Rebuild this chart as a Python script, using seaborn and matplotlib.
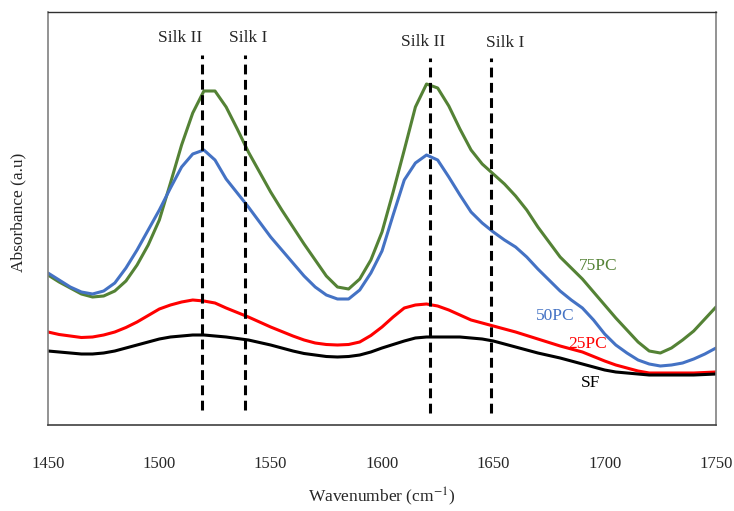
import numpy as np
import pandas as pd
import matplotlib
matplotlib.use("Agg")
import matplotlib.pyplot as plt
import seaborn as sns

sns.set_style("white")
plt.rcParams['font.family'] = ['Liberation Serif', 'DejaVu Serif']
plt.rcParams['mathtext.fontset'] = 'stix'

# wavenumber (cm-1), one reading every 5 cm-1
wavenumber = list(range(1450, 1755, 5))

# absorbance (a.u.)
pc75 = [1.50, 1.43, 1.37, 1.31, 1.28, 1.29, 1.34, 1.44, 1.60, 1.80,
        2.05, 2.42, 2.80, 3.12, 3.34, 3.34, 3.18, 2.96, 2.73, 2.53,
        2.33, 2.15, 1.98, 1.81, 1.65, 1.49, 1.38, 1.36, 1.46, 1.65,
        1.93, 2.33, 2.75, 3.18, 3.41, 3.37, 3.19, 2.96, 2.75, 2.61,
        2.51, 2.41, 2.29, 2.15, 1.98, 1.83, 1.68, 1.57, 1.46, 1.33,
        1.20, 1.07, 0.95, 0.83, 0.74, 0.72, 0.77, 0.85, 0.94, 1.06,
        1.18]
pc50 = [1.52, 1.45, 1.38, 1.33, 1.31, 1.34, 1.42, 1.57, 1.75, 1.95,
        2.15, 2.37, 2.58, 2.71, 2.75, 2.65, 2.46, 2.32, 2.18, 2.03,
        1.88, 1.75, 1.62, 1.49, 1.38, 1.30, 1.26, 1.26, 1.35, 1.52,
        1.74, 2.10, 2.45, 2.62, 2.70, 2.65, 2.48, 2.30, 2.13, 2.02,
        1.93, 1.85, 1.78, 1.68, 1.56, 1.45, 1.34, 1.25, 1.17, 1.05,
        0.91, 0.80, 0.72, 0.65, 0.61, 0.59, 0.60, 0.62, 0.66, 0.71,
        0.77]
pc25 = [0.93, 0.905, 0.89, 0.875, 0.88, 0.90, 0.93, 0.975, 1.03, 1.095,
        1.16, 1.20, 1.23, 1.25, 1.24, 1.22, 1.17, 1.125, 1.08, 1.03,
        0.98, 0.935, 0.89, 0.85, 0.82, 0.805, 0.80, 0.805, 0.83, 0.895,
        0.98, 1.08, 1.17, 1.20, 1.21, 1.19, 1.15, 1.10, 1.05, 1.02,
        0.99, 0.96, 0.93, 0.895, 0.86, 0.825, 0.79, 0.76, 0.73, 0.685,
        0.64, 0.60, 0.57, 0.54, 0.52, 0.52, 0.52, 0.52, 0.52, 0.525,
        0.53]
sf = [0.74, 0.73, 0.72, 0.71, 0.71, 0.72, 0.74, 0.77, 0.80, 0.83,
      0.86, 0.88, 0.89, 0.90, 0.90, 0.89, 0.88, 0.865, 0.85, 0.825,
      0.80, 0.77, 0.74, 0.715, 0.70, 0.685, 0.68, 0.685, 0.70, 0.73,
      0.77, 0.805, 0.84, 0.87, 0.88, 0.88, 0.88, 0.88, 0.87, 0.86,
      0.84, 0.81, 0.78, 0.75, 0.72, 0.695, 0.67, 0.64, 0.61, 0.58,
      0.55, 0.53, 0.52, 0.51, 0.50, 0.50, 0.50, 0.50, 0.50, 0.505,
      0.51]

series_names = ['75PC', '50PC', '25PC', 'SF']
series_colors = ['#548235', '#4472C4', '#FF0000', '#000000']

silk_pos = [1519, 1538.5, 1621.5, 1649]
silk_text = ['Silk II', 'Silk I', 'Silk II', 'Silk I']

df = pd.DataFrame({'Wavenumber': wavenumber, '75PC': pc75, '50PC': pc50,
                   '25PC': pc25, 'SF': sf})
df_long = df.melt(id_vars='Wavenumber', var_name='Sample', value_name='Absorbance')

fig = plt.figure(figsize=(7.34, 5.11), dpi=100)
ax = fig.add_axes([48/734, 1-425/511, (716-48)/734, (425-12)/511])

sns.lineplot(data=df_long, x='Wavenumber', y='Absorbance', hue='Sample',
             hue_order=series_names, palette=series_colors, linewidth=2.2,
             legend=False, ax=ax, solid_joinstyle='round')

# band markers
spans = [(0.036, 0.896), (0.036, 0.896), (0.029, 0.889), (0.029, 0.889)]
label_x = [1509.3, 1539.8, 1618.4, 1655.2]
label_y = [3.87, 3.87, 3.83, 3.82]
for pos, (lo, hi), txt, lx, ly in zip(silk_pos, spans, silk_text, label_x, label_y):
    ax.axvline(pos, ymin=lo, ymax=hi, color='black', linewidth=2.2,
               linestyle=(0, (3.2, 1.8)))
    ax.text(lx, ly, txt, ha='center', va='center', fontsize=12.5)

# curve labels
lab_pos = [(1697, 1.59), (1677.7, 1.09), (1692.5, 0.81), (1693.9, 0.42)]
for name, col, (lx, ly) in zip(series_names, series_colors, lab_pos):
    ax.text(lx, ly, name, color=col, ha='center', va='center', fontsize=12.5)

ax.set_xlim(1450, 1750)
ax.set_ylim(0, 4.13)
ax.set_xticks([1450, 1500, 1550, 1600, 1650, 1700, 1750])
ax.set_yticks([])
ax.tick_params(axis='x', length=0, pad=22, labelsize=12)
ax.set_xlabel('')
ax.set_ylabel('')

for side in ['left', 'right', 'bottom']:
    ax.spines[side].set_color('#808080')
    ax.spines[side].set_linewidth(1.2)
ax.spines['top'].set_color('#303030')
ax.spines['top'].set_linewidth(1.0)
ax.spines['bottom'].set_color('#404040')

fig.text(382/734, 1-497/511, 'Wavenumber (cm$^{-1}$)', ha='center', va='center',
         fontsize=12.5)
fig.text(18/734, 1-212/511, 'Absorbance (a.u)', ha='center', va='center',
         rotation=90, fontsize=12.5)

fig.savefig('out.png', dpi=100, facecolor='white')
